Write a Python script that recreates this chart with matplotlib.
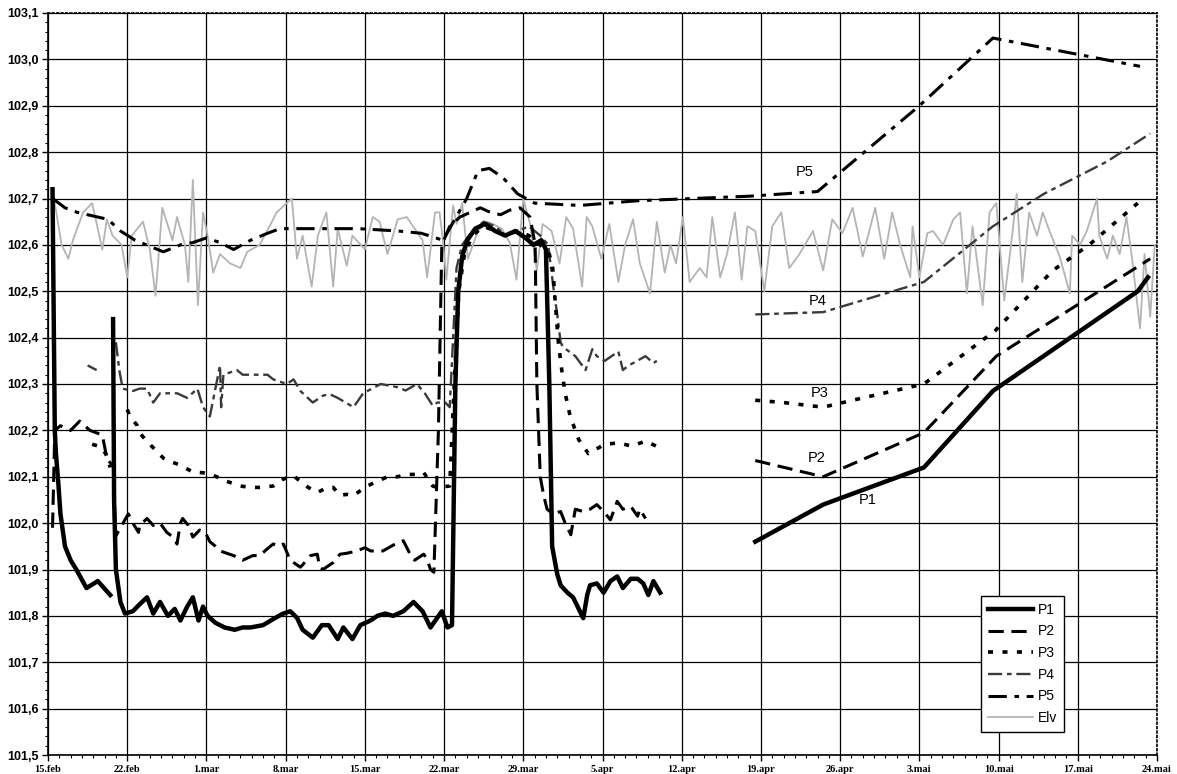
import numpy as np
import matplotlib.pyplot as plt
from matplotlib.ticker import MultipleLocator, FuncFormatter

nan = np.nan

# x = days after 15.feb, one tick label per week
week_labels = ["15.feb", "22.feb", "1.mar", "8.mar", "15.mar", "22.mar", "29.mar", "5.apr",
               "12.apr", "19.apr", "26.apr", "3.mai", "10.mai", "17.mai", "24.mai"]

p1_day = [0.4, 0.6, 0.7, 0.9, 1.1, 1.5, 2.0, 2.5, 3.4, 4.4, 5.5, nan,
          5.75, 5.84, 6.0, 6.4, 6.8, 7.5, 8.1, 8.75, 9.3, 9.9, 10.6, 11.2, 11.7, 12.3, 12.8, 13.3, 13.7,
          14.1, 14.8, 15.6, 16.5, 17.2, 17.9, 19.0, 19.9, 20.7, 21.4, 22.0, 22.5, 23.4, 24.2, 24.8,
          25.6, 26.1, 26.9, 27.6, 28.5, 29.1, 29.8, 30.5, 31.4, 32.3, 33.1, 33.8, 34.8, 35.3, 35.7,
          36.0, 36.25, 36.6, 37.05, 37.75, 38.6, 39.5, 40.4, 41.3, 42.2, 42.9, 43.6, 44.0, 44.3,
          44.55, 45.0, 45.3, 45.9, 46.4, 47.0, 47.3, 47.65, 47.9, 48.5, 49.1, 49.7, 50.3, 50.8,
          51.5, 52.1, 52.6, 53.05, 53.5, 54.1, nan,
          62.5, 68.5, 77.4, 83.5, 96.3, 97.2]
p1_val = [102.72, 102.2, 102.15, 102.09, 102.02, 101.95, 101.92, 101.9, 101.86, 101.875, 101.845, nan,
          102.44, 102.05, 101.9, 101.83, 101.805, 101.81, 101.825, 101.84, 101.805, 101.83, 101.8,
          101.815, 101.79, 101.82, 101.84, 101.79, 101.82, 101.8, 101.785, 101.775, 101.77, 101.775,
          101.775, 101.78, 101.793, 101.804, 101.81, 101.796, 101.77, 101.753, 101.78, 101.78, 101.75,
          101.775, 101.75, 101.78, 101.79, 101.8, 101.805, 101.8, 101.81, 101.83, 101.81, 101.775,
          101.81, 101.775, 101.78, 102.3, 102.5, 102.575, 102.61, 102.635, 102.645, 102.63, 102.62,
          102.63, 102.615, 102.6, 102.61, 102.59, 102.3, 101.95, 101.89, 101.866, 101.85, 101.84,
          101.81, 101.795, 101.845, 101.866, 101.87, 101.85, 101.875, 101.885, 101.86, 101.88,
          101.88, 101.87, 101.845, 101.875, 101.85, nan,
          101.96, 102.04, 102.12, 102.285, 102.5, 102.53]

p2_day = [0.4, 0.6, 1.1, 2.0, 2.8, 3.7, 4.8, 5.2, 5.5, 5.8, 5.95, 6.4, 7.1, 7.5, 8.0, 8.1, 8.75,
          9.3, 9.9, 10.5, 11.05, 11.4, 11.7, 11.9, 12.4, 12.8, 13.4, 13.9, 14.3, 14.8, 15.2, 16.4,
          17.2, 18.1, 18.7, 19.4, 19.9, 20.5, 20.8, 21.4, 21.7, 22.3, 22.5, 23.2, 23.8, 24.0, 24.3,
          25.2, 25.8, 26.4, 27.3, 28.0, 28.5, 29.6, 30.9, 31.4, 32.0, 32.4, 33.2, 33.5, 33.8, 34.1,
          34.5, 34.8, 35.5, 36.4, 37.3, 38.2, 39.1, 40.0, 40.8, 41.7, 42.6, 43.05, 43.2, 43.5, 43.8,
          44.1, 44.65, 45.3, 45.7, 46.2, 46.6, 47.3, 47.9, 48.5, 49.1, 49.7, 50.3, 50.8, 51.5, 52.1,
          52.3, 52.8, nan,
          62.5, 68.5, 77.4, 83.8, 97.4]
p2_val = [101.99, 102.2, 102.21, 102.2, 102.22, 102.2, 102.19, 102.14, 102.13, 102.12, 101.97,
          101.99, 102.02, 102.0, 101.98, 101.995, 102.01, 101.995, 102.0, 101.98, 101.97, 101.955,
          102.0, 102.01, 101.995, 101.97, 101.985, 101.98, 101.96, 101.95, 101.94, 101.93, 101.92,
          101.93, 101.93, 101.945, 101.955, 101.95, 101.955, 101.92, 101.915, 101.905, 101.91,
          101.93, 101.933, 101.905, 101.9, 101.915, 101.933, 101.935, 101.94, 101.947, 101.94,
          101.94, 101.958, 101.962, 101.933, 101.92, 101.933, 101.922, 101.9, 101.894, 102.2, 102.6,
          102.64, 102.66, 102.67, 102.68, 102.67, 102.665, 102.675, 102.68, 102.66, 102.6, 102.3,
          102.1, 102.06, 102.03, 102.02, 102.025, 102.0, 101.975, 102.03, 102.025, 102.03, 102.04,
          102.025, 102.007, 102.047, 102.03, 102.036, 102.015, 102.03, 102.01, nan,
          102.135, 102.10, 102.195, 102.36, 102.57]

p3_day = [3.9, 4.6, 5.1, 5.5, nan,
          7.0, 7.25, 7.9, 8.1, 8.6, 9.6, 10.2, 10.8, 11.7, 12.8, 14.05, 14.9, 15.8, 17.0, 17.9, 18.7,
          19.9, 20.8, 21.7, 22.3, 23.0, 23.8, 24.7, 25.2, 25.8, 26.4, 27.0, 27.6, 28.2, 29.1, 30.0,
          30.9, 31.7, 32.6, 33.2, 34.0, 34.4, 35.5, 35.9, 36.3, 36.8, 37.5, 38.5, 39.5, 40.5, 41.5,
          42.5, 43.5, 44.3, 44.6, 45.0, 45.1, 45.4, 45.7, 46.15, 46.9, 47.75, 49.2, 50.4, 51.6,
          52.8, 54.1, nan,
          62.5, 65.0, 68.5, 72.0, 77.4, 83.7, 88.8, 92.0, 96.3]
p3_val = [102.17, 102.165, 102.15, 102.12, nan,
          102.245, 102.23, 102.21, 102.195, 102.18, 102.155, 102.14, 102.133, 102.125, 102.11,
          102.108, 102.1, 102.09, 102.08, 102.077, 102.077, 102.08, 102.095, 102.102, 102.09,
          102.077, 102.066, 102.077, 102.077, 102.06, 102.062, 102.059, 102.07, 102.08, 102.09,
          102.1, 102.1, 102.105, 102.105, 102.109, 102.08, 102.077, 102.08, 102.3, 102.5, 102.58,
          102.62, 102.64, 102.63, 102.62, 102.63, 102.62, 102.6, 102.58, 102.55, 102.42, 102.39,
          102.33, 102.28, 102.23, 102.18, 102.15, 102.17, 102.173, 102.166, 102.177, 102.162, nan,
          102.265, 102.26, 102.25, 102.27, 102.30, 102.415, 102.545, 102.6, 102.69]

p4_day = [3.5, 4.3, nan,
          6.0, 6.3, 6.6, 7.5, 8.1, 8.75, 9.3, 9.9, 11.4, 12.3, 13.2, 13.7, 14.3, 15.2, 15.3, 15.5,
          16.7, 17.2, 19.4, 19.9, 21.1, 21.7, 22.3, 23.4, 24.3, 24.9, 25.6, 27.0, 27.85, 29.4, 30.9,
          31.6, 32.6, 33.3, 34.0, 34.4, 35.1, 35.5, 35.8, 36.1, 36.6, 37.5, 38.5, 39.5, 40.5, 41.5,
          42.5, 43.5, 44.2, 44.65, 45.0, 45.3, 45.5, 46.6, 47.5, 48.1, 48.5, 49.2, 50.4, 50.8, 51.3,
          51.7, 52.8, 53.5, 53.8, nan,
          62.5, 68.5, 77.4, 83.5, 88.0, 93.6, 97.4]
p4_val = [102.34, 102.33, nan,
          102.39, 102.33, 102.29, 102.285, 102.29, 102.29, 102.26, 102.28, 102.28, 102.27, 102.29,
          102.25, 102.23, 102.34, 102.25, 102.32, 102.33, 102.32, 102.32, 102.31, 102.30, 102.31,
          102.285, 102.26, 102.275, 102.278, 102.27, 102.25, 102.28, 102.3, 102.293, 102.286, 102.3,
          102.28, 102.253, 102.26, 102.26, 102.25, 102.4, 102.55, 102.6, 102.63, 102.65, 102.64,
          102.62, 102.63, 102.64, 102.62, 102.6, 102.51, 102.45, 102.39, 102.38, 102.36, 102.33,
          102.375, 102.36, 102.35, 102.37, 102.33, 102.34, 102.345, 102.36, 102.345, 102.35, nan,
          102.45, 102.455, 102.52, 102.64, 102.71, 102.78, 102.84]

p5_day = [0.4, 1.5, 2.6, 5.3, 6.4, 7.7, 10.2, 11.7, 12.8, 14.0, 15.2, 16.4, 17.9, 19.4, 20.5,
          23.4, 27.4, 30.9, 33.0, 34.9, 37.0, 38.0, 39.0, 40.2, 41.5, 43.0, 47.0, 52.0, 57.0, 62.0,
          68.0, 77.0, 83.5, 96.5]
p5_val = [102.7, 102.68, 102.67, 102.655, 102.63, 102.61, 102.585, 102.6, 102.605, 102.615,
          102.605, 102.59, 102.61, 102.625, 102.635, 102.635, 102.635, 102.63, 102.625, 102.61,
          102.7, 102.76, 102.765, 102.745, 102.71, 102.69, 102.685, 102.695, 102.7, 102.705,
          102.715, 102.9, 103.046, 102.985]

elv_day = [0.35, 0.6, 1.2, 1.8, 2.2, 3.1, 3.9, 4.8, 5.2, 5.7, 6.5, 7.0, 7.4, 8.4, 9.0, 9.5, 10.1,
           11.0, 11.4, 12.1, 12.4, 12.8, 13.25, 13.7, 14.1, 14.6, 15.2, 16.1, 17.0, 17.6, 18.7, 19.9,
           20.2, 21.1, 21.55, 22.0, 22.5, 23.3, 23.85, 24.6, 25.2, 25.6, 26.4, 26.9, 28.0, 28.7, 29.3,
           30.0, 30.9, 31.7, 32.4, 33.1, 33.5, 34.2, 34.6, 34.9, 35.2, 35.8, 36.1, 36.6, 37.1, 38.0,
           38.8, 39.3, 40.1, 40.8, 41.4, 42.0, 42.6, 43.2, 43.7, 44.5, 45.2, 45.8, 46.4, 47.2, 47.6,
           48.1, 48.9, 49.6, 50.4, 51.0, 51.7, 52.3, 53.2, 53.8, 54.5, 55.0, 55.5, 56.1, 56.7, 57.6,
           58.2, 58.7, 59.4, 60.0, 60.7, 61.3, 61.8, 62.5, 63.3, 64.0, 64.8, 65.5, 66.4, 67.6, 68.5,
           69.3, 70.2, 71.1, 72.0, 73.1, 73.9, 74.6, 75.3, 76.2, 76.4, 77.0, 77.7, 78.2, 79.1, 80.0,
           80.6, 81.2, 81.7, 82.6, 83.2, 83.8, 84.5, 85.2, 85.6, 86.1, 86.7, 87.4, 87.9, 88.5, 89.4,
           90.3, 90.5, 91.2, 91.8, 92.7, 92.9, 93.6, 94.1, 94.7, 95.3, 95.8, 96.5, 96.9, 97.4, 97.8]
elv_val = [102.66, 102.69, 102.6, 102.57, 102.61, 102.67, 102.69, 102.59, 102.655, 102.62, 102.6,
           102.53, 102.62, 102.65, 102.59, 102.49, 102.68, 102.61, 102.66, 102.6, 102.52, 102.74,
           102.47, 102.67, 102.62, 102.54, 102.58, 102.56, 102.55, 102.585, 102.6, 102.655, 102.67,
           102.69, 102.7, 102.57, 102.62, 102.51, 102.62, 102.67, 102.51, 102.635, 102.555, 102.62,
           102.59, 102.66, 102.65, 102.58, 102.655, 102.66, 102.635, 102.61, 102.53, 102.67, 102.67,
           102.61, 102.525, 102.685, 102.645, 102.69, 102.57, 102.63, 102.65, 102.645, 102.635,
           102.605, 102.525, 102.7, 102.645, 102.545, 102.645, 102.63, 102.56, 102.66, 102.635,
           102.51, 102.66, 102.64, 102.57, 102.645, 102.52, 102.6, 102.655, 102.56, 102.495, 102.65,
           102.54, 102.6, 102.56, 102.66, 102.52, 102.55, 102.53, 102.66, 102.53, 102.58, 102.67,
           102.525, 102.64, 102.63, 102.5, 102.64, 102.67, 102.55, 102.58, 102.63, 102.545, 102.655,
           102.625, 102.68, 102.575, 102.68, 102.57, 102.67, 102.6, 102.53, 102.64, 102.53, 102.625,
           102.63, 102.6, 102.655, 102.67, 102.495, 102.64, 102.47, 102.67, 102.69, 102.48, 102.62,
           102.71, 102.52, 102.67, 102.62, 102.67, 102.63, 102.575, 102.495, 102.62, 102.6, 102.63,
           102.7, 102.62, 102.57, 102.62, 102.58, 102.66, 102.57, 102.42, 102.58, 102.445, 102.6]

# series name labels written next to the right-hand part of each line
tag_names = ["P5", "P4", "P3", "P2", "P1"]
tag_day = [66.9, 68.0, 68.2, 67.9, 72.4]
tag_val = [102.757, 102.48, 102.28, 102.14, 102.05]

fig = plt.figure(figsize=(11.77, 7.74), dpi=100)
ax = fig.add_axes([48 / 1177, 19 / 774, 1109 / 1177, 742 / 774])

ax.plot(elv_day, elv_val, color='#b4b4b4', lw=1.3, zorder=2, label='Elv')
ax.plot(p5_day, p5_val, color='black', lw=2.2, ls=(0, (6, 2.5, 1.5, 2.5)), zorder=3, label='P5')
ax.plot(p4_day, p4_val, color='#3a3a3a', lw=1.7, ls=(0, (6, 2, 2, 2)), zorder=3, label='P4')
ax.plot(p3_day, p3_val, color='black', lw=2.6, ls=(0, (1.4, 2.6)), zorder=4, label='P3')
ax.plot(p2_day, p2_val, color='black', lw=2.2, ls=(0, (5, 2.5)), zorder=4, label='P2')
ax.plot(p1_day, p1_val, color='black', lw=3.2, zorder=5, label='P1')

for name, d, v in zip(tag_names, tag_day, tag_val):
    ax.text(d, v, name, fontsize=10.5, family='Liberation Sans', ha='center', va='center', zorder=6)

# axes, ticks and grid
ax.set_xlim(0, 98)
ax.set_ylim(101.5, 103.1)
ax.set_xticks(np.arange(0, 99, 7))
ax.set_xticklabels(week_labels, family='Liberation Serif', fontweight='bold', fontsize=7.5)
ax.xaxis.set_minor_locator(MultipleLocator(1))
ax.yaxis.set_major_locator(MultipleLocator(0.1))
ax.yaxis.set_minor_locator(MultipleLocator(0.02))
ax.yaxis.set_major_formatter(FuncFormatter(lambda v, _: f"{v:.1f}".replace('.', ',')))
for t in ax.get_yticklabels():
    t.set_family('Liberation Sans')
    t.set_fontweight('bold')
    t.set_fontsize(9)
ax.tick_params(which='major', length=4, width=1, pad=3)
ax.tick_params(which='minor', length=2, width=0.8)
ax.grid(True, which='major', color='black', lw=0.9)
ax.set_axisbelow(True)
for s in ['left', 'bottom']:
    ax.spines[s].set_linewidth(1.2)
for s in ['top', 'right']:
    ax.spines[s].set_linestyle(':')
    ax.spines[s].set_linewidth(1.2)

# legend order P1..Elv
h, l = ax.get_legend_handles_labels()
order = [5, 4, 3, 2, 1, 0]
leg = ax.legend([h[i] for i in order], [l[i] for i in order], loc='lower left',
                bbox_to_anchor=(0.841, 0.031), borderaxespad=0, fancybox=False,
                edgecolor='black', framealpha=1, handlelength=3.3,
                handletextpad=0.3, labelspacing=0.55, borderpad=0.5,
                prop={'family': 'Liberation Sans', 'size': 10})
leg.get_frame().set_linewidth(1.0)

plt.savefig("out.png", dpi=100)
